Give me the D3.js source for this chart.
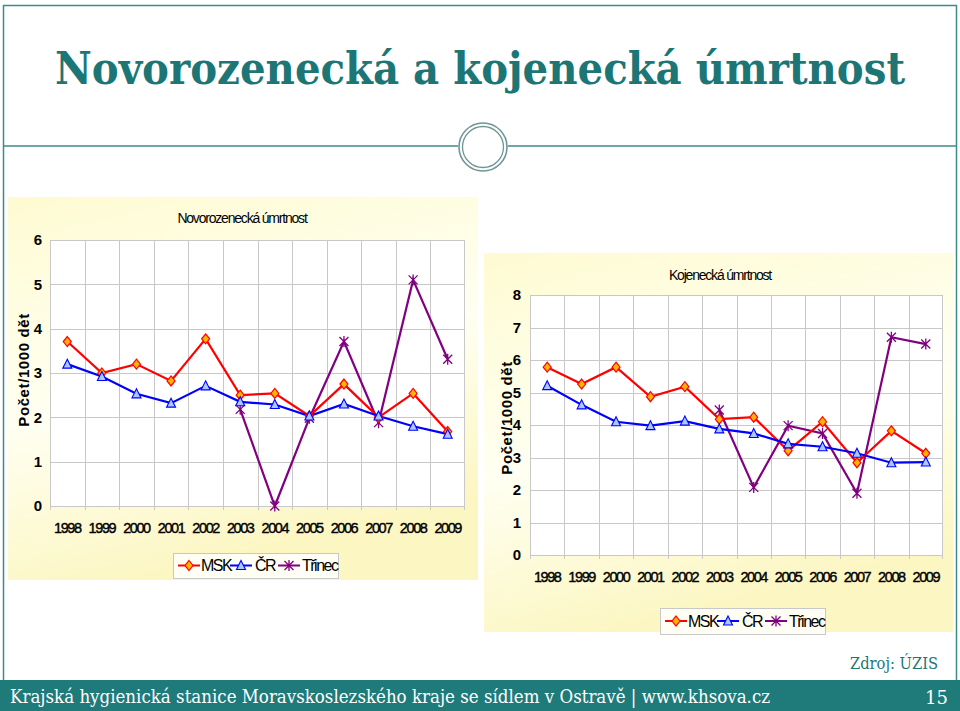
<!DOCTYPE html>
<html><head><meta charset="utf-8">
<script src="https://cdn.jsdelivr.net/npm/d3@7"></script>
<style>body{margin:0;background:#fff}svg{display:block}</style>
</head><body>
<svg id="c" width="960" height="711"></svg>
<script>
const years = ["1998","1999","2000","2001","2002","2003","2004","2005","2006","2007","2008","2009"];
const seriesNames = ["MSK","ČR","Třinec"];
// Novorozenecká úmrtnost
const neoMSK    = [3.71,3.00,3.20,2.82,3.77,2.50,2.54,2.03,2.75,2.00,2.54,1.68];
const neoCR     = [3.20,2.92,2.53,2.32,2.71,2.35,2.29,2.03,2.30,2.03,1.80,1.62];
const neoTrinec = [null,null,null,null,null,2.18,0.00,1.98,3.71,1.88,5.10,3.31];
const neoTicks  = [0,1,2,3,4,5,6];
// Kojenecká úmrtnost
const infMSK    = [5.78,5.26,5.78,4.87,5.18,4.18,4.24,3.21,4.10,2.84,3.82,3.13];
const infCR     = [5.21,4.62,4.10,3.98,4.12,3.88,3.74,3.42,3.33,3.13,2.84,2.86];
const infTrinec = [null,null,null,null,null,4.46,2.08,3.98,3.74,1.90,6.70,6.49];
const infTicks  = [0,1,2,3,4,5,6,7,8];

const svg = d3.select("#c");
const teal = "#1d7676";

// slide frame
svg.append("rect").attr("x",3.5).attr("y",5.5).attr("width",953).attr("height",680)
  .attr("fill","none").attr("stroke","#3d8a8a").attr("stroke-width",1.5);
svg.append("line").attr("x1",3).attr("x2",458).attr("y1",146).attr("y2",146).attr("stroke","#3d8a8a").attr("stroke-width",1.5);
svg.append("line").attr("x1",508).attr("x2",957).attr("y1",146).attr("y2",146).attr("stroke","#3d8a8a").attr("stroke-width",1.5);
svg.append("circle").attr("cx",483).attr("cy",147).attr("r",24).attr("fill","#fff").attr("stroke","#6f9696").attr("stroke-width",1.6);
svg.append("circle").attr("cx",483).attr("cy",147).attr("r",20.5).attr("fill","none").attr("stroke","#6f9696").attr("stroke-width",1.3);

svg.append("text").attr("x",480).attr("y",84).attr("text-anchor","middle").attr("textLength",850).attr("lengthAdjust","spacingAndGlyphs")
  .attr("font-family","'DejaVu Serif Condensed', 'DejaVu Serif', serif").attr("font-weight","bold").attr("font-size",45)
  .attr("fill",teal).text("Novorozenecká a kojenecká úmrtnost");

// footer
svg.append("rect").attr("x",0).attr("y",680).attr("width",960).attr("height",31).attr("fill","#1f7a7a");
svg.append("text").attr("x",10).attr("y",703).attr("textLength",760).attr("lengthAdjust","spacingAndGlyphs")
  .attr("font-family","'DejaVu Serif', serif").attr("font-size",18).attr("fill","#fff")
  .text("Krajská hygienická stanice Moravskoslezského kraje se sídlem v Ostravě | www.khsova.cz");
svg.append("text").attr("x",948).attr("y",704).attr("text-anchor","end")
  .attr("font-family","'DejaVu Serif', serif").attr("font-size",18).attr("fill","#fff").text("15");
svg.append("text").attr("x",938).attr("y",669).attr("text-anchor","end").attr("textLength",88).attr("lengthAdjust","spacingAndGlyphs")
  .attr("font-family","'DejaVu Serif', serif").attr("font-size",16).attr("fill",teal).text("Zdroj: ÚZIS");

// gradient
const defs = svg.append("defs");
const g = defs.append("linearGradient").attr("id","bg").attr("x1",0).attr("y1",0).attr("x2",0.3).attr("y2",1);
g.append("stop").attr("offset","0%").attr("stop-color","#fefbd2");
g.append("stop").attr("offset","55%").attr("stop-color","#fffff2");
g.append("stop").attr("offset","100%").attr("stop-color","#fcf6c2");

const font = "'Liberation Sans', Arial, sans-serif";
const colors = {MSK:"#ff0000", CR:"#0000ff", T:"#800080"};

function starPath(s){
  return `M${-s},${-s}L${s},${s}M${-s},${s}L${s},${-s}M0,${-s-1}L0,${s+1}`;
}
function drawMarker(sel, kind){
  if(kind===0){
    sel.append("path").attr("d","M0,-5L4,0L0,5L-4,0Z").attr("fill","#ffb400").attr("stroke","#ff0000").attr("stroke-width",1.2);
  } else if(kind===1){
    sel.append("path").attr("d","M0,-5L4.5,4L-4.5,4Z").attr("fill","#a8c8ff").attr("stroke","#0000ff").attr("stroke-width",1.1);
  } else {
    sel.append("path").attr("d",starPath(4.5)).attr("fill","none").attr("stroke","#800080").attr("stroke-width",1.3);
  }
}

function drawChart(cfg){
  const c = svg.append("g");
  c.append("rect").attr("x",cfg.box[0]).attr("y",cfg.box[1]).attr("width",cfg.box[2]-cfg.box[0]).attr("height",cfg.box[3]-cfg.box[1])
    .attr("fill","url(#bg)");
  const x = d3.scaleBand().domain(years).range([cfg.plot[0],cfg.plot[2]]);
  const y = d3.scaleLinear().domain([0,d3.max(cfg.ticks)]).range([cfg.plot[3],cfg.plot[1]]);
  c.append("rect").attr("x",cfg.plot[0]).attr("y",cfg.plot[1]).attr("width",cfg.plot[2]-cfg.plot[0]).attr("height",cfg.plot[3]-cfg.plot[1]).attr("fill","#fff");
  // grid
  const grid = c.append("g").attr("stroke","#c8c8c8").attr("stroke-width",1);
  cfg.ticks.forEach(t=>grid.append("line").attr("x1",cfg.plot[0]).attr("x2",cfg.plot[2]).attr("y1",Math.round(y(t))+0.5).attr("y2",Math.round(y(t))+0.5));
  years.forEach(yr=>grid.append("line").attr("x1",Math.round(x(yr))+0.5).attr("x2",Math.round(x(yr))+0.5).attr("y1",cfg.plot[1]).attr("y2",cfg.plot[3]+4));
  grid.append("line").attr("x1",cfg.plot[2]-0.5).attr("x2",cfg.plot[2]-0.5).attr("y1",cfg.plot[1]).attr("y2",cfg.plot[3]+4);
  // y axis
  const ya = c.append("g").attr("transform",`translate(${cfg.plot[0]},0)`)
    .call(d3.axisLeft(y).tickValues(cfg.ticks).tickSize(0).tickPadding(cfg.ypad).tickFormat(d3.format("d")));
  ya.select(".domain").remove();
  ya.selectAll("text").attr("font-family",font).attr("font-size",15).attr("font-weight","bold").attr("fill","#000");
  // x axis
  const xa = c.append("g").attr("transform",`translate(0,${cfg.plot[3]})`)
    .call(d3.axisBottom(x).tickSize(0).tickPadding(cfg.xpad));
  xa.select(".domain").remove();
  xa.selectAll("text").attr("font-family",font).attr("font-size",14.5).attr("letter-spacing","-1.4px").attr("fill","#000")
    .attr("stroke","#000").attr("stroke-width",0.4);
  // title
  c.append("text").attr("x",cfg.titleX).attr("y",cfg.titleY).attr("text-anchor","middle")
    .attr("font-family",font).attr("font-size",14).attr("letter-spacing","-1.2px").attr("fill","#000").text(cfg.title);
  // y title
  c.append("text").attr("transform",`translate(${cfg.ytX},${cfg.ytY}) rotate(-90)`).attr("text-anchor","middle")
    .attr("font-family",font).attr("font-size",15).attr("font-weight","bold").attr("letter-spacing","0.6px").attr("fill","#000").text("Počet/1000 dět");
  // series
  const series = [cfg.msk, cfg.cr, cfg.tr];
  const lineCols = [colors.MSK, colors.CR, colors.T];
  [2,0,1].forEach(i=>{
    const data = years.map((yr,j)=>({yr, v:series[i][j]})).filter(d=>d.v!==null);
    const line = d3.line().x(d=>x(d.yr)+x.bandwidth()/2).y(d=>y(d.v));
    c.append("path").datum(data).attr("d",line).attr("fill","none").attr("stroke",lineCols[i]).attr("stroke-width",2.2);
  });
  [2,0,1].forEach(i=>{
    const data = years.map((yr,j)=>({yr, v:series[i][j]})).filter(d=>d.v!==null);
    data.forEach(d=>{
      const m = c.append("g").attr("transform",`translate(${x(d.yr)+x.bandwidth()/2},${y(d.v)})`);
      drawMarker(m,i);
    });
  });
  // legend
  const L = cfg.legend;
  c.append("rect").attr("x",L[0]+0.5).attr("y",L[1]+0.5).attr("width",L[2]-L[0]).attr("height",L[3]-L[1])
    .attr("fill","#fffef4").attr("stroke","#c8c8c8");
  const offs = [[5,28],[57,82],[105,129]];
  const ly = (L[1]+L[3])/2;
  seriesNames.forEach((n,i)=>{
    const lg = c.append("g");
    lg.append("line").attr("x1",L[0]+offs[i][0]).attr("x2",L[0]+offs[i][0]+22).attr("y1",ly).attr("y2",ly).attr("stroke",lineCols[i]).attr("stroke-width",2);
    const m = lg.append("g").attr("transform",`translate(${L[0]+offs[i][0]+11},${ly})`);
    drawMarker(m,i);
    lg.append("text").attr("x",L[0]+offs[i][1]).attr("y",ly+5.5).attr("font-family",font).attr("font-size",16)
      .attr("letter-spacing","-1.5px").attr("fill","#000").text(n);
  });
}

drawChart({box:[8,197,478,580], plot:[50,240,465,506], ticks:neoTicks, msk:neoMSK, cr:neoCR, tr:neoTrinec,
  title:"Novorozenecká úmrtnost", titleX:242, titleY:223, ytX:29, ytY:370, ypad:8, xpad:17,
  legend:[173,553,338,578]});
drawChart({box:[484,253,953,632], plot:[530,295,943,555], ticks:infTicks, msk:infMSK, cr:infCR, tr:infTrinec,
  title:"Kojenecká úmrtnost", titleX:720, titleY:280, ytX:512, ytY:418, ypad:9, xpad:17,
  legend:[660,608,825,634]});
</script>
</body></html>
